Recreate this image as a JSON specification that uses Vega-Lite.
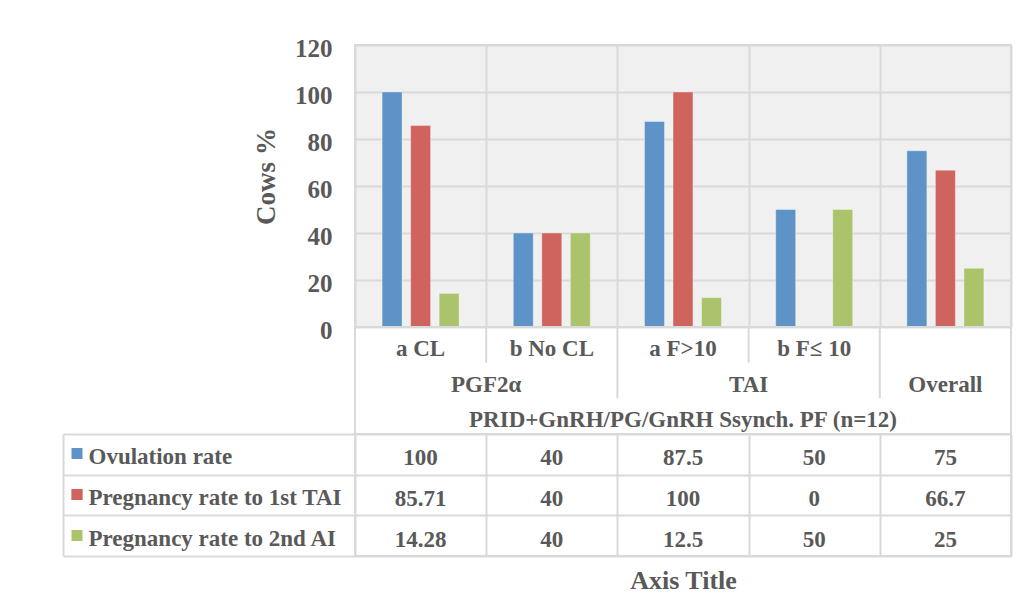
{
  "$schema": "https://vega.github.io/schema/vega-lite/v6.json",
  "padding": {"left": 61, "top": 35, "right": 5, "bottom": 5},
  "background": "white",
  "bounds": "flush",
  "spacing": 0,
  "datasets": {
    "rates": [
      {"cat": "a CL", "series": "Ovulation rate", "value": 100},
      {"cat": "b No CL", "series": "Ovulation rate", "value": 40},
      {"cat": "a F>10", "series": "Ovulation rate", "value": 87.5},
      {"cat": "b F≤ 10", "series": "Ovulation rate", "value": 50},
      {"cat": "Overall", "series": "Ovulation rate", "value": 75},
      {"cat": "a CL", "series": "Pregnancy rate to 1st TAI", "value": 85.71},
      {"cat": "b No CL", "series": "Pregnancy rate to 1st TAI", "value": 40},
      {"cat": "a F>10", "series": "Pregnancy rate to 1st TAI", "value": 100},
      {"cat": "b F≤ 10", "series": "Pregnancy rate to 1st TAI", "value": 0},
      {"cat": "Overall", "series": "Pregnancy rate to 1st TAI", "value": 66.7},
      {"cat": "a CL", "series": "Pregnancy rate to 2nd AI", "value": 14.28},
      {"cat": "b No CL", "series": "Pregnancy rate to 2nd AI", "value": 40},
      {"cat": "a F>10", "series": "Pregnancy rate to 2nd AI", "value": 12.5},
      {"cat": "b F≤ 10", "series": "Pregnancy rate to 2nd AI", "value": 50},
      {"cat": "Overall", "series": "Pregnancy rate to 2nd AI", "value": 25}
    ],
    "separators": [
      {"cat": "b No CL", "depth": 1},
      {"cat": "a F>10", "depth": 2},
      {"cat": "b F≤ 10", "depth": 1},
      {"cat": "Overall", "depth": 2}
    ],
    "centered": [
      {"cat": "a CL", "label": "a CL", "level": 1},
      {"cat": "b No CL", "label": "b No CL", "level": 1},
      {"cat": "a F>10", "label": "a F>10", "level": 1},
      {"cat": "b F≤ 10", "label": "b F≤ 10", "level": 1},
      {"cat": "Overall", "label": "Overall", "level": 2},
      {"cat": "a F>10", "label": "PRID+GnRH/PG/GnRH Ssynch. PF (n=12)", "level": 3}
    ],
    "spanning": [
      {"cat": "b No CL", "label": "PGF2α", "level": 2},
      {"cat": "b F≤ 10", "label": "TAI", "level": 2}
    ]
  },
  "config": {
    "font": "Liberation Serif",
    "axis": {
      "labelFont": "Liberation Serif",
      "titleFont": "Liberation Serif",
      "labelFontWeight": "bold",
      "titleFontWeight": "bold",
      "labelColor": "#595959",
      "titleColor": "#595959",
      "gridColor": "#d9d9d9",
      "gridWidth": 2,
      "domainColor": "#d9d9d9",
      "domainWidth": 2,
      "tickColor": "#d9d9d9"
    },
    "text": {"font": "Liberation Serif", "fontWeight": "bold", "fontSize": 23, "color": "#595959"}
  },
  "vconcat": [
    {
      "width": 656,
      "height": 282,
      "data": {"name": "rates"},
      "view": {"fill": "#f0f0f0", "stroke": "#d9d9d9", "strokeWidth": 2},
      "mark": {"type": "bar", "stroke": "#ffffff", "strokeWidth": 1, "strokeOpacity": 0.35},
      "encoding": {
        "x": {
          "field": "cat", "type": "nominal",
          "scale": {"domain": ["a CL", "b No CL", "a F>10", "b F≤ 10", "Overall"], "paddingInner": 0, "paddingOuter": 0},
          "axis": {"title": null, "labels": false, "ticks": false, "domain": false, "grid": true, "tickBand": "extent"}
        },
        "xOffset": {
          "field": "series", "type": "nominal",
          "scale": {"domain": ["Ovulation rate", "Pregnancy rate to 1st TAI", "Pregnancy rate to 2nd AI"], "paddingInner": 0.3, "paddingOuter": 0.95}
        },
        "y": {
          "field": "value", "type": "quantitative",
          "scale": {"domain": [0, 120], "nice": false},
          "axis": {
            "values": [0, 20, 40, 60, 80, 100, 120],
            "title": "Cows %", "titleFontSize": 27, "titlePadding": 14, "titleY": 131,
            "grid": true, "domain": false, "ticks": false,
            "labelPadding": 23, "labelFontSize": 25, "labelOffset": 3
          }
        },
        "color": {
          "field": "series", "type": "nominal",
          "scale": {"domain": ["Ovulation rate", "Pregnancy rate to 1st TAI", "Pregnancy rate to 2nd AI"], "range": ["#5e93c8", "#cf645f", "#abc46b"]},
          "legend": null
        }
      }
    },
    {
      "width": 656,
      "height": 107,
      "view": {"stroke": "#d9d9d9", "strokeWidth": 2},
      "resolve": {"scale": {"y": "independent"}},
      "layer": [
        {
          "data": {"name": "separators"},
          "mark": {"type": "rule", "color": "#d9d9d9", "strokeWidth": 2},
          "encoding": {
            "x": {"field": "cat", "type": "nominal", "bandPosition": 0,
                  "scale": {"domain": ["a CL", "b No CL", "a F>10", "b F≤ 10", "Overall"], "paddingInner": 0, "paddingOuter": 0},
                  "axis": null},
            "y": {"field": "depth", "type": "quantitative", "scale": {"domain": [0, 3], "reverse": true, "nice": false}, "axis": null},
            "y2": {"datum": 0}
          }
        },
        {
          "data": {"name": "centered"},
          "mark": {"type": "text", "baseline": "middle", "dy": 4},
          "encoding": {
            "x": {"field": "cat", "type": "nominal", "axis": null},
            "y": {"field": "level", "type": "ordinal", "scale": {"domain": [1, 2, 3], "paddingInner": 0, "paddingOuter": 0}, "axis": null},
            "text": {"field": "label"}
          }
        },
        {
          "data": {"name": "spanning"},
          "mark": {"type": "text", "baseline": "middle", "dy": 4},
          "encoding": {
            "x": {"field": "cat", "type": "nominal", "bandPosition": 0, "axis": null},
            "y": {"field": "level", "type": "ordinal", "scale": {"domain": [1, 2, 3], "paddingInner": 0, "paddingOuter": 0}, "axis": null},
            "text": {"field": "label"}
          }
        }
      ]
    },
    {
      "width": 656,
      "height": 122,
      "data": {"name": "rates"},
      "view": {"stroke": "#d9d9d9", "strokeWidth": 2},
      "resolve": {"axis": {"y": "independent"}},
      "layer": [
        {
          "mark": {"type": "text", "baseline": "middle", "dy": 4},
          "encoding": {
            "x": {
              "field": "cat", "type": "nominal",
              "scale": {"domain": ["a CL", "b No CL", "a F>10", "b F≤ 10", "Overall"], "paddingInner": 0, "paddingOuter": 0},
              "axis": {"title": "Axis Title", "titleFontSize": 26, "titlePadding": 11, "labels": false, "ticks": false, "domain": false, "grid": true, "tickBand": "extent"}
            },
            "y": {
              "field": "series", "type": "nominal",
              "scale": {"domain": ["Ovulation rate", "Pregnancy rate to 1st TAI", "Pregnancy rate to 2nd AI"], "paddingInner": 0, "paddingOuter": 0},
              "axis": {"orient": "left", "title": null, "labels": false, "domain": true, "ticks": true, "tickSize": -292, "tickWidth": 2, "tickBand": "extent", "grid": true, "offset": 292}
            },
            "text": {"field": "value", "type": "nominal"}
          }
        },
        {
          "mark": {"type": "text", "text": ""},
          "encoding": {
            "y": {
              "field": "series", "type": "nominal",
              "axis": {
                "orient": "left", "title": null, "labels": false, "domain": false, "grid": false,
                "ticks": true, "tickSize": 11, "tickWidth": 11, "tickCap": "butt", "tickOffset": -1, "offset": 273,
                "tickColor": {
                  "condition": {"test": "datum.value === 'Ovulation rate'", "value": "#5e93c8"},
                  "value": "#abc46b"
                }
              }
            }
          }
        },
        {
          "mark": {"type": "text", "text": ""},
          "encoding": {
            "y": {
              "field": "series", "type": "nominal",
              "axis": {
                "orient": "left", "title": null, "labels": false, "domain": false, "grid": false,
                "ticks": true, "tickSize": 11, "tickWidth": 11, "tickCap": "butt", "tickOffset": -1, "offset": 273,
                "tickColor": {
                  "condition": {"test": "datum.value === 'Pregnancy rate to 1st TAI'", "value": "#cf645f"},
                  "value": "transparent"
                }
              }
            }
          }
        },
        {
          "mark": {"type": "text", "text": ""},
          "encoding": {
            "y": {
              "field": "series", "type": "nominal",
              "axis": {
                "orient": "left", "title": null, "labels": true, "domain": false, "grid": false,
                "ticks": false, "tickSize": 0, "labelAlign": "left", "labelPadding": 0, "offset": 267,
                "labelFontSize": 23, "labelLimit": 400, "labelOffset": 3
              }
            }
          }
        }
      ]
    }
  ]
}
